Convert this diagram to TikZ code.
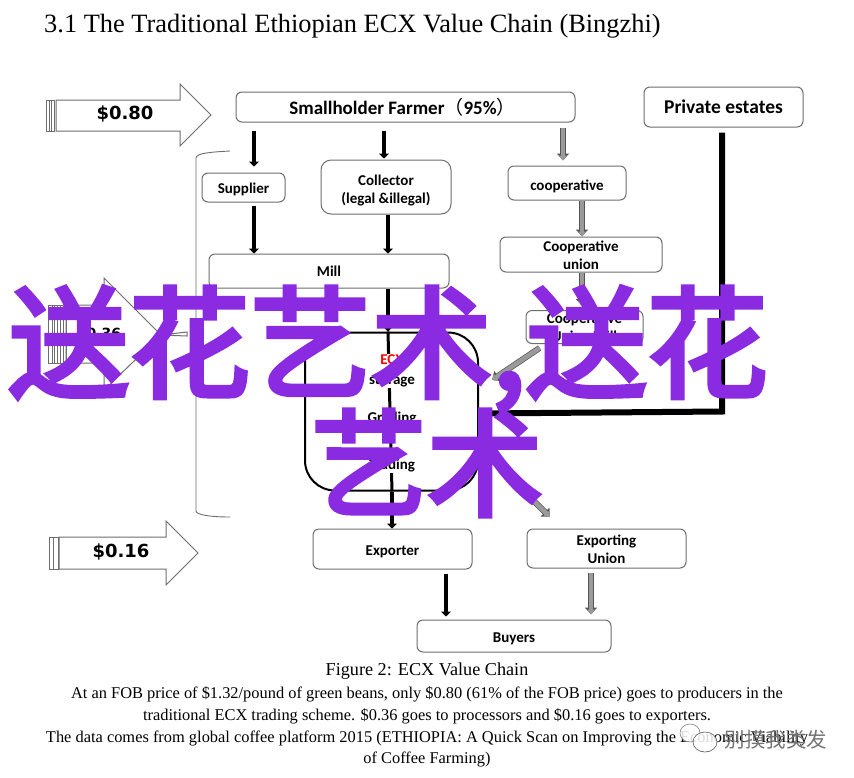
\documentclass[tikz,border=0pt]{standalone}
\usepackage{fontspec}
\setmainfont{Liberation Serif}
\newfontfamily\lab{Carlito}
\newfontfamily\price{DejaVu Sans}
\newfontfamily\cjk{Noto Sans CJK SC}
\newfontfamily\cjkw[FakeBold=4]{Noto Sans CJK SC}
\usetikzlibrary{arrows.meta,calc}
\definecolor{wm}{HTML}{8A2BE2}
\definecolor{gfill}{HTML}{9A9A9A}
\definecolor{gedge}{HTML}{555555}
\definecolor{bedge}{HTML}{6E6E6E}
\newcommand{\dn}[2]{\raisebox{-#1pt}[\height][\depth]{#2}}
\tikzset{
  x=1pt,y=-1pt,
  box/.style={draw=bedge,line width=1pt,rounded corners=6pt,fill=white,inner sep=0pt,align=center,
    font=\lab\bfseries\fontsize{15}{18}\selectfont},
  bigbox/.style={box,font=\lab\bfseries\fontsize{19.5}{23}\selectfont},
  blk/.style={line width=4pt,black,-{Triangle[length=5pt,width=10pt]}},
  gry/.style={gfill,line width=4.6pt,-{Triangle[length=5pt,width=8pt]},
    preaction={draw=gedge,line width=6pt,-{Triangle[length=7pt,width=12pt]}}},
  thick line/.style={line width=6pt,black,line join=miter},
  block/.style={draw=bedge,line width=1pt,fill=white,line join=miter},
  pricetext/.style={font=\price\bfseries\fontsize{18}{20}\selectfont,inner sep=0pt},
  inlabel/.style={font=\lab\bfseries\fontsize{15}{18}\selectfont,fill=white,inner sep=1pt},
  capt/.style={font=\fontsize{16.4}{19}\selectfont,inner sep=0pt,anchor=center},
  overlay/.style={font=\cjkw\fontsize{121}{121}\selectfont,text=wm,inner sep=0pt},
}
\begin{document}
\begin{tikzpicture}
\useasboundingbox (0,0) rectangle (854,777);
\fill[white] (0,0) rectangle (854,777);
% title
\node[font=\fontsize{26.4}{30}\selectfont,inner sep=0pt,anchor=west] (title) at (44,26) {3.1 The Traditional Ethiopian ECX Value Chain (Bingzhi)};
% block arrows
\draw[block] (56,100) -- (180,100) -- (180,84) -- (211,115) -- (180,146) -- (180,131) -- (56,131) -- cycle;
\draw[bedge,line width=.8pt] (46,100) rectangle (54,131) (49,100) -- (49,131) (51.5,100) -- (51.5,131);
\node[pricetext] (p80) at (125,114) {\$0.80};
\draw[block] (66,305) -- (104,305) -- (104,278) -- (161,335) -- (187,332) -- (187,336) -- (161,335) -- (104,390) -- (104,363) -- (66,363) -- cycle;
\draw[bedge,line width=.8pt] (48,305) rectangle (66,363) (52,305) -- (52,363) (54,305) -- (54,363) (57,305) -- (57,363) (60,305) -- (60,363) (63,305) -- (63,363);
\node[pricetext,font=\price\bfseries\fontsize{14}{16}\selectfont] (p36) at (99,334) {\$0.36};
\draw[block] (59,537) -- (166,537) -- (166,521) -- (198,553) -- (166,585) -- (166,569) -- (59,569) -- cycle;
\draw[bedge,line width=.8pt] (49,537) rectangle (58,569) (53,537) -- (53,569);
\node[pricetext] (p16) at (121,552) {\$0.16};
% bracket
\draw[bedge,line width=.9pt] (230,151) .. controls (212,152) and (196,153) .. (196,158) -- (196,511) .. controls (196,515) and (212,517) .. (230,517);
% boxes
\node[box,font=\lab\bfseries\fontsize{19}{23}\selectfont,minimum width=339pt,minimum height=30pt] (farmer) at (405.5,107) {Smallholder Farmer{\cjk\mdseries（}95\%{\cjk\mdseries）}\hspace{6pt}};
\node[bigbox,minimum width=159pt,minimum height=40pt] (estates) at (723.5,107) {Private estates};
\node[box,minimum width=83pt,minimum height=29pt] (supplier) at (243.5,187.5) {\dn{2}{Supplier}};
\node[box,rounded corners=10pt,minimum width=130pt,minimum height=54pt] (collector) at (386,187) {\dn{3.5}{Collector}\\\dn{3.5}{(legal \&illegal)}};
\node[box,minimum width=118pt,minimum height=34pt] (coop) at (567,183) {\dn{3}{cooperative}};
\node[box,minimum width=162pt,minimum height=35pt] (union) at (581,254.5) {\dn{1}{Cooperative}\\\dn{1}{union}};
\node[box,minimum width=240pt,minimum height=34pt] (mill) at (329,271) {Mill};
\node[box,minimum width=117pt,minimum height=33pt] (umill) at (584.5,327) {Cooperative\\Union Mill};
\node[box,draw=black,line width=2pt,rounded corners=30pt,minimum width=173pt,minimum height=158pt] (ecx) at (391.5,411.5) {};
\node[box,minimum width=159pt,minimum height=40pt] (exporter) at (392.5,549) {\dn{3}{Exporter}};
\node[box,minimum width=159pt,minimum height=39pt] (eunion) at (606.5,548.5) {\dn{1}{Exporting}\\\dn{1}{Union}};
\node[box,minimum width=194pt,minimum height=32pt] (buyers) at (514,636) {\dn{3}{Buyers}};
% x positions of the connectors
\coordinate (xa) at (254,0);
\coordinate (xb) at (384,0);
\coordinate (xc) at (388,0);
\coordinate (xd) at (563,0);
\coordinate (xe) at (582,0);
\coordinate (xf) at (392,0);
\coordinate (xg) at (446,0);
\coordinate (xh) at (591,0);
\coordinate (xi) at (722,0);
\coordinate (umtip) at (492,380);
\coordinate (eutip) at (550,517);
% black connectors
\draw[blk,shorten <=8pt,shorten >=6pt] (farmer.south -| xa) -- (supplier.north -| xa);
\draw[blk,shorten <=8pt,shorten >=1pt] (farmer.south -| xb) -- (collector.north -| xb);
\draw[blk,shorten <=3pt] (supplier.south -| xa) -- (mill.north -| xa);
\draw[blk] (collector.south -| xc) -- (mill.north -| xc);
\draw[blk] (mill.south -| xc) -- (ecx.north -| xc);
\draw[black,line width=3pt] (ecx.north -| xc) -- (ecx.south -| xf);
\draw[blk] (ecx.south -| xf) -- (exporter.north -| xf);
\draw[blk,shorten <=4pt,shorten >=3pt] (exporter.south -| xg) -- (buyers.north -| xg);
\draw[thick line,shorten <=5pt] (estates.south -| xi) -- (ecx.east -| xi) -- ([yshift=-2pt]ecx.east);
% grey connectors
\draw[gry,shorten <=5pt,shorten >=5pt] (farmer.south -| xd) -- (coop.north -| xd);
\draw[gry] (coop.south -| xe) -- (union.north -| xe);
\draw[gry,shorten >=4pt] (union.south -| xe) -- (umill.north -| xe);
\draw[gry,shorten <=7pt] ([xshift=-39pt]umill.south) -- (umtip);
\draw[gry,shorten <=5pt] ([yshift=-35pt]ecx.east) -- (eutip);
\draw[gry,shorten <=4pt,shorten >=5pt] (eunion.south -| xh) -- (buyers.north -| xh);
% labels inside the ECX box
\node[inlabel,text=red] (lecx) at (392,360) {ECX};
\node[inlabel] (lsto) at (392,381) {storage};
\node[inlabel] (lgra) at (392,418) {Grading};
\node[inlabel] (ltra) at (392,465) {Trading};
% caption
\node[capt,font=\fontsize{18.2}{20}\selectfont] (c1) at (427,671) {Figure 2: ECX Value Chain};
\node[capt] (c2) at (427,694) {At an FOB price of \$1.32/pound of green beans, only \$0.80 (61\% of the FOB price) goes to producers in the};
\node[capt] (c3) at (427,716) {traditional ECX trading scheme. \$0.36 goes to processors and \$0.16 goes to exporters.};
\node[capt] (c4) at (427,738) {The data comes from global coffee platform 2015 (ETHIOPIA: A Quick Scan on Improving the Economic Viability};
\node[capt] (c5) at (427,759) {of Coffee Farming)};
% corner mark
\draw[gray,line width=.6pt,fill=white,fill opacity=.85] (690,733) ellipse [x radius=10,y radius=9];
\draw[gray!70!black,line width=.6pt,fill=white,fill opacity=.85] (705,742) ellipse [x radius=12,y radius=10];
\node[font=\cjk\fontsize{20.5}{22}\selectfont,text=black!55,inner sep=0pt] (mark) at (776,740) {别摸我类发};
% overlay
\node[overlay,anchor=center] (w1) at (388,349) {送花艺术,送花};
\node[overlay,anchor=center,font=\cjkw\fontsize{116}{116}\selectfont] (w2) at (427,463) {艺术};
\end{tikzpicture}
\end{document}
